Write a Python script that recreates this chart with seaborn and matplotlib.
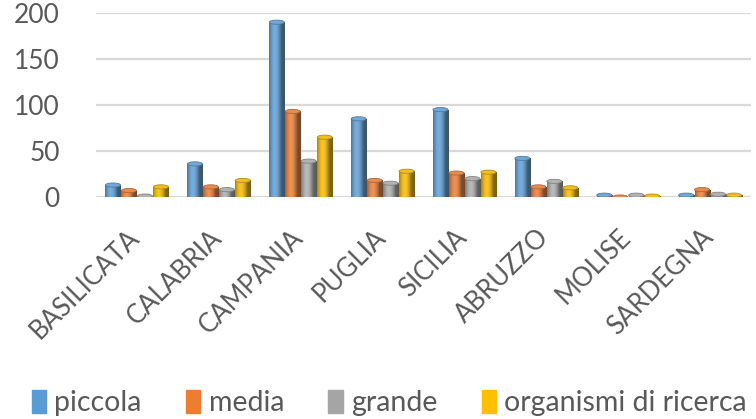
import numpy as np
import pandas as pd
import matplotlib
matplotlib.use("Agg")
import matplotlib.pyplot as plt
import matplotlib.colors as mcolors
import matplotlib.transforms as mtransforms
from matplotlib.patches import Ellipse
import seaborn as sns

# data
regioni = ["BASILICATA", "CALABRIA", "CAMPANIA", "PUGLIA",
           "SICILIA", "ABRUZZO", "MOLISE", "SARDEGNA"]
piccola = [13, 36, 190, 85, 95, 42, 2, 2]
media = [7, 11, 93, 18, 26, 11, 0, 8]
grande = [1, 8, 39, 15, 20, 17, 2, 3]
organismi = [11, 18, 65, 28, 27, 10, 1, 2]

serie = ["piccola", "media", "grande", "organismi di ricerca"]
colori = ["#5B9BD5", "#ED7D31", "#A5A5A5", "#FFC000"]

df = pd.DataFrame({
    "regione": regioni * 4,
    "valore": piccola + media + grande + organismi,
    "tipo": sum([[s] * len(regioni) for s in serie], []),
})

sns.set_style("white")
plt.rcParams["font.family"] = ["Lato", "DejaVu Sans"]
testo = "#595959"

fig = plt.figure(figsize=(7.56, 4.19), dpi=100)
ax = fig.add_axes([96 / 756, 1 - 197 / 419, 655 / 756, 184 / 419])

sns.barplot(data=df, x="regione", y="valore", hue="tipo", palette=colori,
            width=0.78, gap=0.06, ax=ax, legend=False, zorder=3)

# shade each bar like a cylinder
def shade(c):
    rgb = np.array(mcolors.to_rgb(c))
    t = np.linspace(0, 1, 64)
    k = 0.75 + 0.45 * np.sin(np.pi * np.clip(t * 1.25, 0, 1)) - 0.2 * t
    cols = np.clip(rgb[None, :] * k[:, None], 0, 1)
    return cols[None, :, :]

for p in list(ax.patches):
    x0, w = p.get_x(), p.get_width()
    h = p.get_height()
    rgb = np.array(mcolors.to_rgb(p.get_facecolor()))
    if h > 0.5:
        im = ax.imshow(shade(rgb), extent=(x0, x0 + w, 0, h), aspect="auto",
                       zorder=3, interpolation="bilinear")
        im.set_clip_path(p)
    top = Ellipse((x0 + w / 2, h), w, 4.5, facecolor=np.clip(rgb * 1.08, 0, 1),
                  edgecolor=rgb * 0.8, linewidth=0.6, zorder=4)
    ax.add_patch(top)
    p.set_edgecolor(rgb * 0.8)
    p.set_linewidth(0.6)

ax.set_xlim(-0.5, len(regioni) - 0.5)
ax.set_ylim(0, 200)
ax.set_yticks([0, 50, 100, 150, 200])
ax.grid(axis="y", color="#D9D9D9", linewidth=1.6, zorder=0)
ax.set_axisbelow(True)
for s in ax.spines.values():
    s.set_visible(False)
ax.set_xlabel("")
ax.set_ylabel("")
ax.tick_params(axis="y", length=0, pad=26, labelsize=19, labelcolor=testo)
ax.tick_params(axis="x", length=0, pad=20, labelsize=18.5, labelcolor=testo)
ax.set_xticks(range(len(regioni)))
ax.set_xticklabels(regioni, rotation=45, ha="right", va="top",
                   rotation_mode="anchor")
shift = mtransforms.ScaledTranslation(-10 / 100, 0, fig.dpi_scale_trans)
for lab in ax.get_xticklabels():
    lab.set_transform(lab.get_transform() + shift)

handles = [plt.Rectangle((0, 0), 1, 1, color=c) for c in colori]
fig.legend(handles, serie, loc="lower center", bbox_to_anchor=(0.515, -0.055),
           ncol=4, frameon=False, fontsize=20.5, labelcolor=testo,
           handlelength=0.5, handleheight=0.9, handletextpad=0.3,
           columnspacing=1.55)

fig.savefig("out.png", dpi=100)
